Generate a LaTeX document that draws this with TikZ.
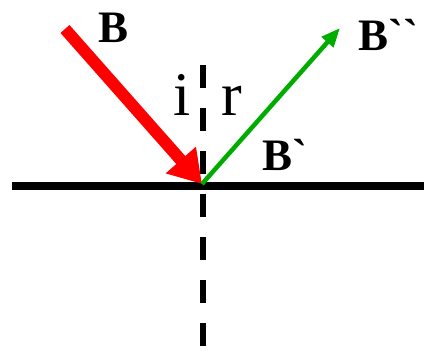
\documentclass[tikz,border=0pt]{standalone}
\usepackage{fontspec}
\setmainfont{Liberation Serif}[Ligatures=TeXOff]
\usetikzlibrary{arrows.meta}
\definecolor{grn}{RGB}{0,172,0}
\begin{document}
\begin{tikzpicture}[x=1pt,y=-1pt,
  lbl/.style={inner sep=0pt, anchor=base west, font=\fontsize{45}{54}\selectfont\bfseries},
  ang/.style={inner sep=0pt, anchor=base west, font=\fontsize{62}{70}\selectfont},
  normal/.style={line width=6pt, dash pattern=on 23pt off 20pt},
  mirror/.style={line width=8.5pt},
  incident/.style={red, line width=12pt, -{Triangle[length=32pt,width=38pt]}},
  reflected/.style={grn, line width=4.5pt, -{Triangle[length=19pt,width=15pt]}}]
\useasboundingbox (0,0) rectangle (424,357);
\coordinate (O) at (202,184);
\coordinate (Bs) at (65,29);
\coordinate (Be) at (340,28);
\coordinate (Nt) at (203,65);
\coordinate (Nb) at (203,353);
\coordinate (Ml) at (12,186);
\coordinate (Mr) at (424,186);
\draw[normal] (Nt) -- (Nb);
\draw[mirror] (Ml) -- (Mr);
\draw[incident] (Bs) -- (O);
\draw[reflected] (O) -- (Be);
\node[lbl] (tB) at (98,42) {B};
\node[lbl] (tB2) at (358,50) {B``};
\node[lbl] (tB1) at (262,170) {B`};
\node[ang] (ti) at (173,115) {i};
\node[ang] (tr) at (221,115) {r};
\end{tikzpicture}
\end{document}
